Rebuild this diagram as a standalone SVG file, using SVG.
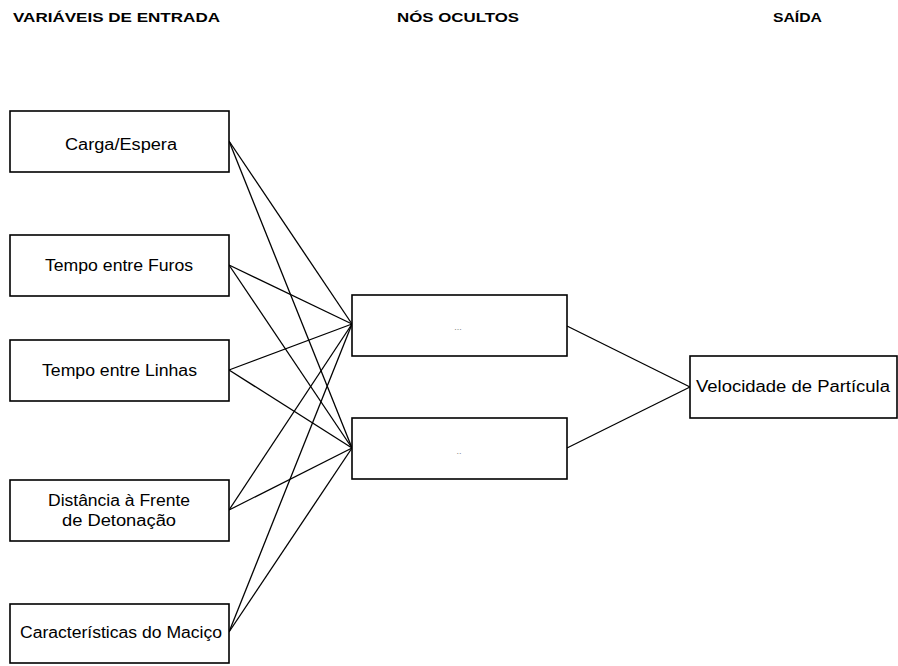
<svg xmlns="http://www.w3.org/2000/svg" width="898" height="666" viewBox="0 0 898 666">
  <style>
    .box { fill: #ffffff; stroke: #000000; stroke-width: 1.6; }
    .edge { stroke: #000000; stroke-width: 1.3; fill: none; }
    .hdr { font-family: "Liberation Sans", Arial, sans-serif; font-size: 13px; font-weight: bold; fill: #000; }
    .lbl { font-family: "Liberation Sans", Arial, sans-serif; font-size: 16px; fill: #000; }
    .dots { font-family: "Liberation Sans", Arial, sans-serif; font-size: 9px; fill: #888; text-anchor: middle; }
  </style>
  <rect width="898" height="666" fill="#ffffff"/>

  <!-- column headings -->
  <text class="hdr" x="13" y="22" textLength="207" lengthAdjust="spacingAndGlyphs">VARIÁVEIS DE ENTRADA</text>
  <text class="hdr" x="397" y="22" textLength="122" lengthAdjust="spacingAndGlyphs">NÓS OCULTOS</text>
  <text class="hdr" x="773" y="22" textLength="49" lengthAdjust="spacingAndGlyphs">SAÍDA</text>

  <!-- connectors -->
  <g id="connectors">
    <!-- inputs to hidden node 1 -->
    <line class="edge" x1="229" y1="141" x2="352" y2="324"/>
    <line class="edge" x1="229" y1="265" x2="352" y2="324"/>
    <line class="edge" x1="229" y1="370" x2="352" y2="324"/>
    <line class="edge" x1="229" y1="510" x2="352" y2="324"/>
    <line class="edge" x1="229" y1="632" x2="352" y2="324"/>
    <!-- inputs to hidden node 2 -->
    <line class="edge" x1="229" y1="141" x2="352" y2="448"/>
    <line class="edge" x1="229" y1="265" x2="352" y2="448"/>
    <line class="edge" x1="229" y1="370" x2="352" y2="448"/>
    <line class="edge" x1="229" y1="510" x2="352" y2="448"/>
    <line class="edge" x1="229" y1="632" x2="352" y2="448"/>
    <!-- hidden nodes to output -->
    <line class="edge" x1="567" y1="326" x2="690" y2="387"/>
    <line class="edge" x1="567" y1="448" x2="690" y2="387"/>
  </g>

  <!-- input nodes -->
  <g id="in-carga">
    <rect class="box" x="10" y="111" width="219" height="61"/>
    <text class="lbl" x="65" y="150" textLength="112" lengthAdjust="spacingAndGlyphs">Carga/Espera</text>
  </g>
  <g id="in-furos">
    <rect class="box" x="10" y="235" width="219" height="61"/>
    <text class="lbl" x="45" y="271" textLength="148" lengthAdjust="spacingAndGlyphs">Tempo entre Furos</text>
  </g>
  <g id="in-linhas">
    <rect class="box" x="10" y="340" width="219" height="61"/>
    <text class="lbl" x="42" y="376" textLength="155" lengthAdjust="spacingAndGlyphs">Tempo entre Linhas</text>
  </g>
  <g id="in-distancia">
    <rect class="box" x="10" y="480" width="219" height="61"/>
    <text class="lbl" x="48" y="506" textLength="142" lengthAdjust="spacingAndGlyphs">Distância à Frente</text>
    <text class="lbl" x="62" y="526" textLength="114" lengthAdjust="spacingAndGlyphs">de Detonação</text>
  </g>
  <g id="in-macico">
    <rect class="box" x="10" y="604" width="219" height="59"/>
    <text class="lbl" x="20" y="638" textLength="202" lengthAdjust="spacingAndGlyphs">Características do Maciço</text>
  </g>

  <!-- hidden nodes -->
  <g id="hidden-1">
    <rect class="box" x="352" y="295" width="215" height="61"/>
    <text class="dots" x="458" y="330">...</text>
  </g>
  <g id="hidden-2">
    <rect class="box" x="352" y="418" width="215" height="61"/>
    <text class="dots" x="459" y="454">..</text>
  </g>

  <!-- output node -->
  <g id="out-velocidade">
    <rect class="box" x="690" y="356" width="207" height="62"/>
    <text class="lbl" x="696" y="392" textLength="194" lengthAdjust="spacingAndGlyphs">Velocidade de Partícula</text>
  </g>
</svg>
